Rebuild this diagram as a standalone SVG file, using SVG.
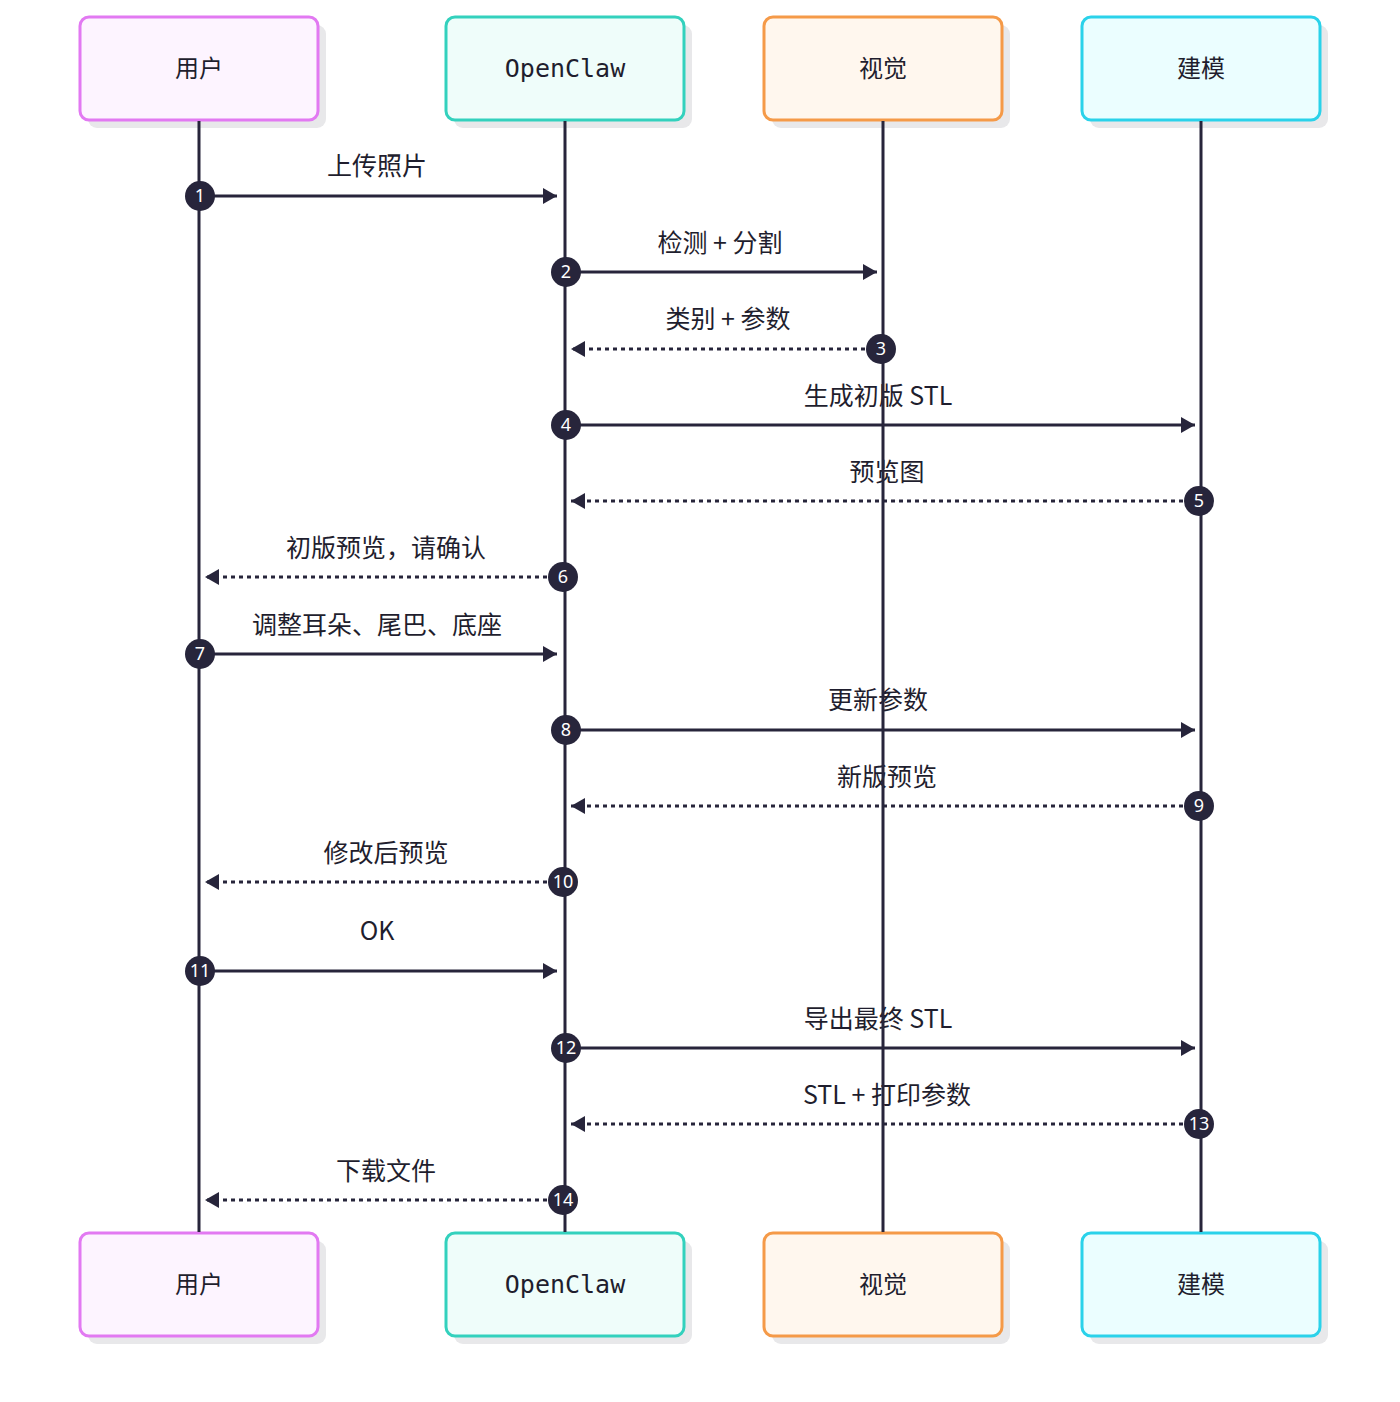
<svg xmlns="http://www.w3.org/2000/svg" width="1400" height="1402" viewBox="0 0 1400 1402">
<defs>
<style>
.shadow{fill:#e8e8ea}
.box{stroke-width:3}
.u{fill:#fdf4ff;stroke:#e279f2}
.o{fill:#effdfa;stroke:#33d1bd}
.v{fill:#fff7ee;stroke:#f59a48}
.m{fill:#ebfeff;stroke:#2ad2ea}
.atext{font-family:"Noto Sans CJK SC","Noto Sans",sans-serif;font-size:24px;fill:#1f1e2e;text-anchor:middle}
.mono{font-family:"DejaVu Sans Mono","Liberation Mono",monospace;font-size:25px}
.life{stroke:#27253b;stroke-width:3}
.msg{stroke:#27253b;stroke-width:2.8;fill:none}
.dash{stroke-width:3.2;stroke-dasharray:4,4}
.lbl{font-family:"Noto Sans CJK SC","Noto Sans",sans-serif;font-size:25px;fill:#1f1e2e;text-anchor:middle}
.num{fill:#27253b}
.ntext{font-family:"Noto Sans","DejaVu Sans",sans-serif;font-size:18px;fill:#ffffff;text-anchor:middle}
</style>
<marker id="ah" viewBox="0 0 14 16" refX="14" refY="8" markerWidth="14" markerHeight="16" markerUnits="userSpaceOnUse" orient="auto">
<path d="M0,0 L14,8 L0,16 Z" fill="#27253b"/>
</marker>
</defs>
<rect width="1400" height="1402" fill="#ffffff"/>

<g id="actor-user-top">
<rect class="shadow" x="88" y="25" width="238" height="103" rx="9"/>
<rect class="box u" x="80" y="17" width="238" height="103" rx="9"/>
<text class="atext" x="199" y="77">用户</text>
</g>
<g id="actor-openclaw-top">
<rect class="shadow" x="454" y="25" width="238" height="103" rx="9"/>
<rect class="box o" x="446" y="17" width="238" height="103" rx="9"/>
<text class="atext mono" x="565" y="77">OpenClaw</text>
</g>
<g id="actor-vision-top">
<rect class="shadow" x="772" y="25" width="238" height="103" rx="9"/>
<rect class="box v" x="764" y="17" width="238" height="103" rx="9"/>
<text class="atext" x="883" y="77">视觉</text>
</g>
<g id="actor-model-top">
<rect class="shadow" x="1090" y="25" width="238" height="103" rx="9"/>
<rect class="box m" x="1082" y="17" width="238" height="103" rx="9"/>
<text class="atext" x="1201" y="77">建模</text>
</g>

<g id="actor-user-bottom">
<rect class="shadow" x="88" y="1241" width="238" height="103" rx="9"/>
<rect class="box u" x="80" y="1233" width="238" height="103" rx="9"/>
<text class="atext" x="199" y="1293">用户</text>
</g>
<g id="actor-openclaw-bottom">
<rect class="shadow" x="454" y="1241" width="238" height="103" rx="9"/>
<rect class="box o" x="446" y="1233" width="238" height="103" rx="9"/>
<text class="atext mono" x="565" y="1293">OpenClaw</text>
</g>
<g id="actor-vision-bottom">
<rect class="shadow" x="772" y="1241" width="238" height="103" rx="9"/>
<rect class="box v" x="764" y="1233" width="238" height="103" rx="9"/>
<text class="atext" x="883" y="1293">视觉</text>
</g>
<g id="actor-model-bottom">
<rect class="shadow" x="1090" y="1241" width="238" height="103" rx="9"/>
<rect class="box m" x="1082" y="1233" width="238" height="103" rx="9"/>
<text class="atext" x="1201" y="1293">建模</text>
</g>

<g id="labels">
<text class="lbl" x="377" y="175">上传照片</text>
<text class="lbl" x="720" y="252">检测 + 分割</text>
<text class="lbl" x="728" y="328">类别 + 参数</text>
<text class="lbl" x="878" y="405">生成初版 STL</text>
<text class="lbl" x="887" y="481">预览图</text>
<text class="lbl" x="386" y="557">初版预览，请确认</text>
<text class="lbl" x="377" y="634">调整耳朵、尾巴、底座</text>
<text class="lbl" x="878" y="709">更新参数</text>
<text class="lbl" x="887" y="786">新版预览</text>
<text class="lbl" x="386" y="862">修改后预览</text>
<text class="lbl" x="377" y="940">OK</text>
<text class="lbl" x="878" y="1028">导出最终 STL</text>
<text class="lbl" x="887" y="1104">STL + 打印参数</text>
<text class="lbl" x="386" y="1180">下载文件</text>
</g>

<g id="lifelines">
<line class="life" x1="199" y1="121" x2="199" y2="1232"/>
<line class="life" x1="565" y1="121" x2="565" y2="1232"/>
<line class="life" x1="883" y1="121" x2="883" y2="1232"/>
<line class="life" x1="1201" y1="121" x2="1201" y2="1232"/>
</g>

<g id="connectors">
<line class="msg" x1="200" y1="196" x2="557" y2="196" marker-end="url(#ah)"/>
<line class="msg" x1="566" y1="272" x2="877" y2="272" marker-end="url(#ah)"/>
<line class="msg dash" x1="881" y1="349" x2="571" y2="349" marker-end="url(#ah)"/>
<line class="msg" x1="566" y1="425" x2="1195" y2="425" marker-end="url(#ah)"/>
<line class="msg dash" x1="1199" y1="501" x2="571" y2="501" marker-end="url(#ah)"/>
<line class="msg dash" x1="563" y1="577" x2="205" y2="577" marker-end="url(#ah)"/>
<line class="msg" x1="200" y1="654" x2="557" y2="654" marker-end="url(#ah)"/>
<line class="msg" x1="566" y1="730" x2="1195" y2="730" marker-end="url(#ah)"/>
<line class="msg dash" x1="1199" y1="806" x2="571" y2="806" marker-end="url(#ah)"/>
<line class="msg dash" x1="563" y1="882" x2="205" y2="882" marker-end="url(#ah)"/>
<line class="msg" x1="200" y1="971" x2="557" y2="971" marker-end="url(#ah)"/>
<line class="msg" x1="566" y1="1048" x2="1195" y2="1048" marker-end="url(#ah)"/>
<line class="msg dash" x1="1199" y1="1124" x2="571" y2="1124" marker-end="url(#ah)"/>
<line class="msg dash" x1="563" y1="1200" x2="205" y2="1200" marker-end="url(#ah)"/>
</g>

<g id="numbers">
<circle class="num" cx="200" cy="196" r="15"/><text class="ntext" x="200" y="202">1</text>
<circle class="num" cx="566" cy="272" r="15"/><text class="ntext" x="566" y="278">2</text>
<circle class="num" cx="881" cy="349" r="15"/><text class="ntext" x="881" y="355">3</text>
<circle class="num" cx="566" cy="425" r="15"/><text class="ntext" x="566" y="431">4</text>
<circle class="num" cx="1199" cy="501" r="15"/><text class="ntext" x="1199" y="507">5</text>
<circle class="num" cx="563" cy="577" r="15"/><text class="ntext" x="563" y="583">6</text>
<circle class="num" cx="200" cy="654" r="15"/><text class="ntext" x="200" y="660">7</text>
<circle class="num" cx="566" cy="730" r="15"/><text class="ntext" x="566" y="736">8</text>
<circle class="num" cx="1199" cy="806" r="15"/><text class="ntext" x="1199" y="812">9</text>
<circle class="num" cx="563" cy="882" r="15"/><text class="ntext" x="563" y="888">10</text>
<circle class="num" cx="200" cy="971" r="15"/><text class="ntext" x="200" y="977">11</text>
<circle class="num" cx="566" cy="1048" r="15"/><text class="ntext" x="566" y="1054">12</text>
<circle class="num" cx="1199" cy="1124" r="15"/><text class="ntext" x="1199" y="1130">13</text>
<circle class="num" cx="563" cy="1200" r="15"/><text class="ntext" x="563" y="1206">14</text>
</g>
</svg>
